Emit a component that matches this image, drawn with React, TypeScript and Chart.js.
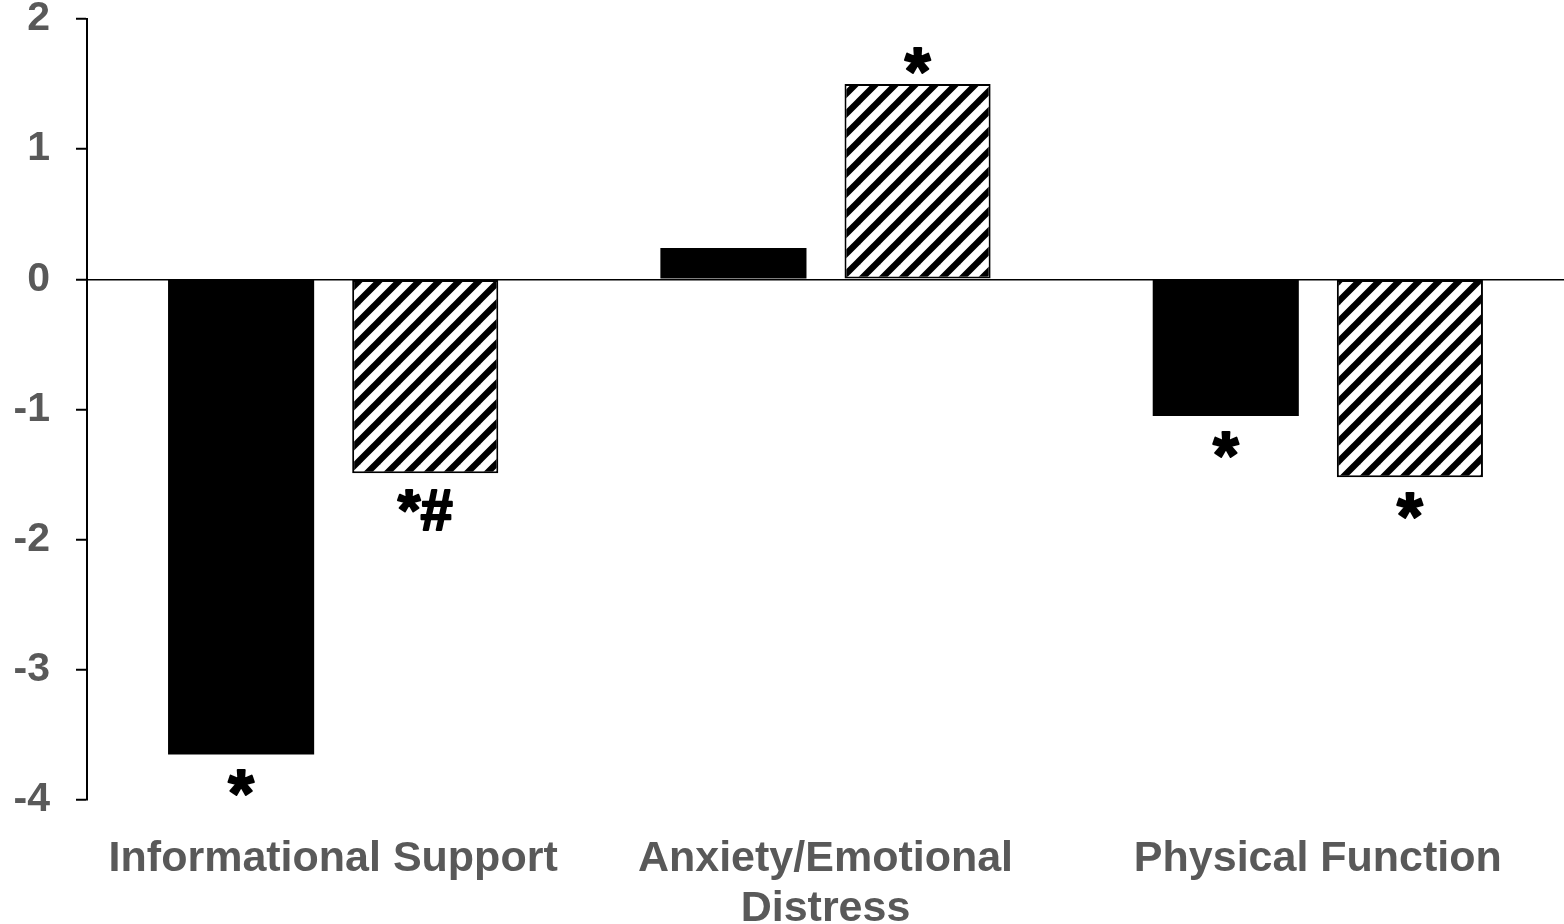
import React, { useEffect, useRef } from "react";
import { Chart, registerables } from "chart.js";

Chart.register(...registerables);

const categories: (string | string[])[] = [
  "Informational Support",
  ["Anxiety/Emotional", "Distress"],
  "Physical Function",
];
const solidValues = [-3.65, 0.24, -1.05];
const hatchedValues = [-1.49, 1.5, -1.52];
const solidMarks = ["*", "", "*"];
const hatchedMarks = ["*#", "*", "*"];
const yTicks = [-4, -3, -2, -1, 0, 1, 2];

const FONT = "'Liberation Sans', Arial, Helvetica, sans-serif";
const GREY = "#595959";

function makeHatch(): CanvasPattern | string {
  const p = 20;
  const c = document.createElement("canvas");
  c.width = p;
  c.height = p;
  const g = c.getContext("2d");
  if (!g) return "#fff";
  g.fillStyle = "#fff";
  g.fillRect(0, 0, p, p);
  g.strokeStyle = "#000";
  g.lineWidth = 6.3;
  g.lineCap = "square";
  for (let k = -2; k <= 2; k++) {
    g.beginPath();
    g.moveTo(k * p - p, 2 * p);
    g.lineTo(k * p + 2 * p, -p);
    g.stroke();
  }
  const pat = g.createPattern(c, "repeat");
  return pat || "#fff";
}

const marksPlugin = {
  id: "marks",
  afterDatasetsDraw(chart: any) {
    const ctx = chart.ctx as CanvasRenderingContext2D;
    const all = [solidMarks, hatchedMarks];
    chart.data.datasets.forEach((ds: any, i: number) => {
      const meta = chart.getDatasetMeta(i);
      meta.data.forEach((bar: any, j: number) => {
        const label = all[i][j];
        if (!label) return;
        const v = ds.data[j] as number;
        const size = label.length > 1 ? 58 : 66;
        ctx.save();
        ctx.font = `bold ${size}px ${FONT}`;
        ctx.fillStyle = "#000";
        ctx.strokeStyle = "#000";
        ctx.lineWidth = 2;
        ctx.lineJoin = "round";
        ctx.textAlign = "center";
        ctx.textBaseline = "alphabetic";
        const m = ctx.measureText("*");
        const a = m.actualBoundingBoxAscent;
        const d = m.actualBoundingBoxDescent;
        const target = v < 0 ? bar.y + 28 : bar.y - 24;
        const baseline = target + (a - d) / 2;
        ctx.fillText(label, bar.x, baseline);
        ctx.strokeText(label, bar.x, baseline);
        ctx.restore();
      });
    });
  },
};

export default function App() {
  const ref = useRef<HTMLCanvasElement | null>(null);

  useEffect(() => {
    if (!ref.current) return;
    const hatch = makeHatch();
    const chart = new Chart(ref.current, {
      type: "bar",
      data: {
        labels: categories as any,
        datasets: [
          {
            data: solidValues,
            backgroundColor: "#000",
            borderWidth: 0,
            categoryPercentage: 0.748,
            barPercentage: 0.7935,
          },
          {
            data: hatchedValues,
            backgroundColor: hatch as any,
            borderColor: "#000",
            borderWidth: 2,
            borderSkipped: false,
            categoryPercentage: 0.748,
            barPercentage: 0.7935,
          },
        ],
      },
      options: {
        animation: false,
        responsive: false,
        maintainAspectRatio: false,
        layout: { padding: { top: 19, left: 0, right: 0, bottom: 0 } },
        plugins: {
          legend: { display: false },
          tooltip: { enabled: false },
          title: { display: false },
        },
        scales: {
          x: {
            grid: { display: false, drawTicks: false },
            border: { display: false },
            ticks: {
              color: GREY,
              font: { family: FONT, size: 43, weight: "bold", lineHeight: 1.16 },
              padding: 34,
              autoSkip: false,
              maxRotation: 0,
              minRotation: 0,
            },
            afterFit: (s: any) => {
              s.height = 124;
            },
          },
          y: {
            min: -4,
            max: 2,
            afterBuildTicks: (s: any) => {
              s.ticks = yTicks.map((v) => ({ value: v }));
            },
            grid: {
              color: (c: any) => (c.tick && c.tick.value === 0 ? "#000" : "rgba(0,0,0,0)"),
              lineWidth: 1.5,
              tickColor: "#000",
              tickWidth: 2,
              tickLength: 11,
              drawTicks: true,
            },
            border: { display: true, color: "#000", width: 2 },
            ticks: {
              color: GREY,
              font: { family: FONT, size: 41, weight: "bold", lineHeight: 1 },
              padding: 26,
            },
            afterFit: (s: any) => {
              s.width = 87;
              s.paddingTop = 10;
              s.paddingBottom = 10;
            },
          },
        },
      },
      plugins: [marksPlugin],
    });
    return () => chart.destroy();
  }, []);

  return (
    <div style={{ position: "absolute", left: 0, top: 0, width: 1564, height: 924, background: "#fff" }}>
      <canvas ref={ref} width={1564} height={924} style={{ display: "block" }} />
    </div>
  );
}
